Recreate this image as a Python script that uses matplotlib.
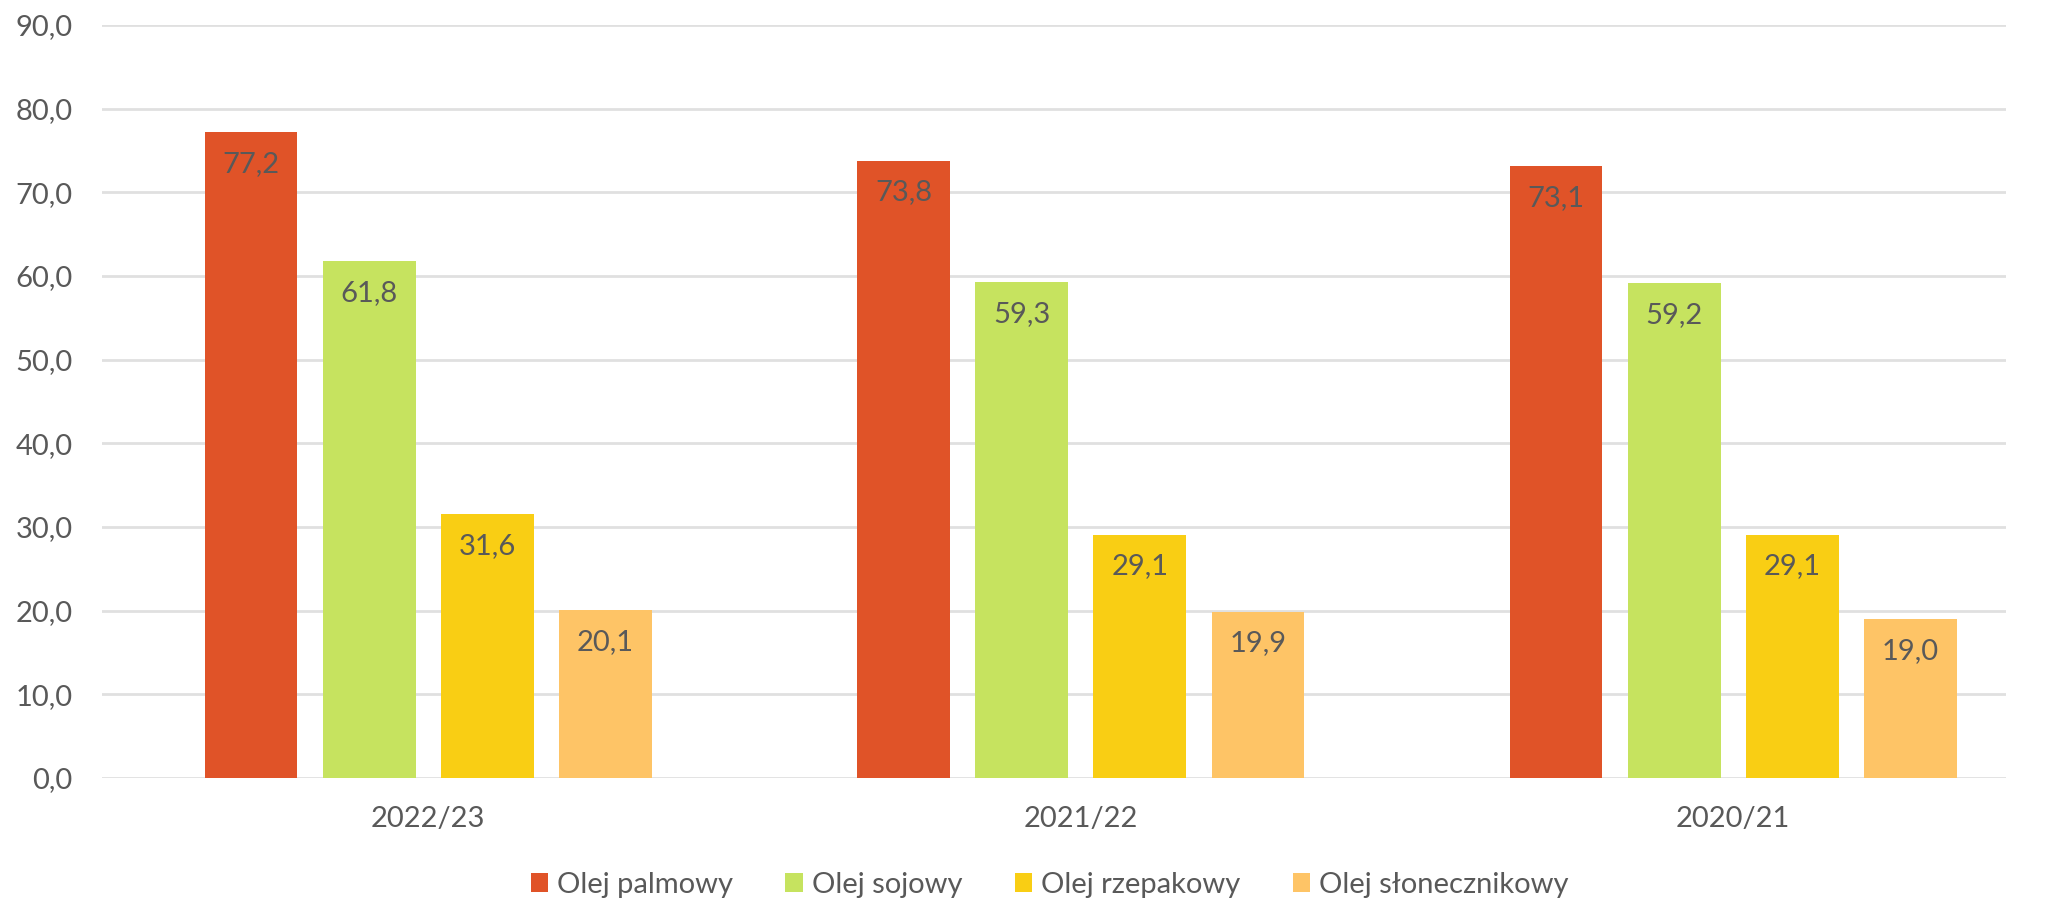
import matplotlib
matplotlib.use("Agg")
import matplotlib.pyplot as plt
import numpy as np

categories = ["2022/23", "2021/22", "2020/21"]
series_names = ["Olej palmowy", "Olej sojowy", "Olej rzepakowy", "Olej słonecznikowy"]
palmowy = [77.2, 73.8, 73.1]
sojowy = [61.8, 59.3, 59.2]
rzepakowy = [31.6, 29.1, 29.1]
slonecznikowy = [20.1, 19.9, 19.0]
yticks = [0, 10, 20, 30, 40, 50, 60, 70, 80, 90]
colors = ["#E05328", "#C6E35F", "#F9CE14", "#FEC466"]

plt.rcParams['font.family'] = ['Lato', 'DejaVu Sans']
txt = "#595959"
fs = 21

fig = plt.figure(figsize=(20.46, 9.02), dpi=100)
ax = fig.add_axes([102/2046, 1 - 778/902, (2006-102)/2046, (778-25)/902])

x = np.arange(len(categories))
width = 0.142
stride = 0.181
data = [palmowy, sojowy, rzepakowy, slonecznikowy]
for i, (vals, name, c) in enumerate(zip(data, series_names, colors)):
    pos = x + (i - 1.5) * stride
    ax.bar(pos, vals, width, color=c, label=name, zorder=3)
    for px, v in zip(pos, vals):
        ax.annotate(f"{v:.1f}".replace(".", ","), (px, v), xytext=(0, -32),
                    textcoords="offset pixels", ha="center", va="center",
                    fontsize=fs, color=txt, zorder=4)

ax.set_xlim(-0.5, 2.418)
ax.set_ylim(0, 90)
ax.set_yticks(yticks)
ax.set_yticklabels([f"{t:.1f}".replace(".", ",") for t in yticks], fontsize=fs, color=txt)
ax.set_xticks(x)
ax.set_xticklabels(categories, fontsize=fs, color=txt)
ax.tick_params(axis="both", length=0)
ax.tick_params(axis="y", pad=21)
ax.tick_params(axis="x", pad=20)
ax.grid(axis="y", color="#E0E0E0", linewidth=2, zorder=0)
for s in ax.spines.values():
    s.set_visible(False)

leg = fig.legend(loc="center", bbox_to_anchor=(0.513, 1 - 885/902), ncol=4, frameon=False,
                 fontsize=fs, handlelength=0.6, handleheight=0.6, handletextpad=0.3,
                 columnspacing=1.8)
for t in leg.get_texts():
    t.set_color(txt)

fig.savefig("out.png", dpi=100)
